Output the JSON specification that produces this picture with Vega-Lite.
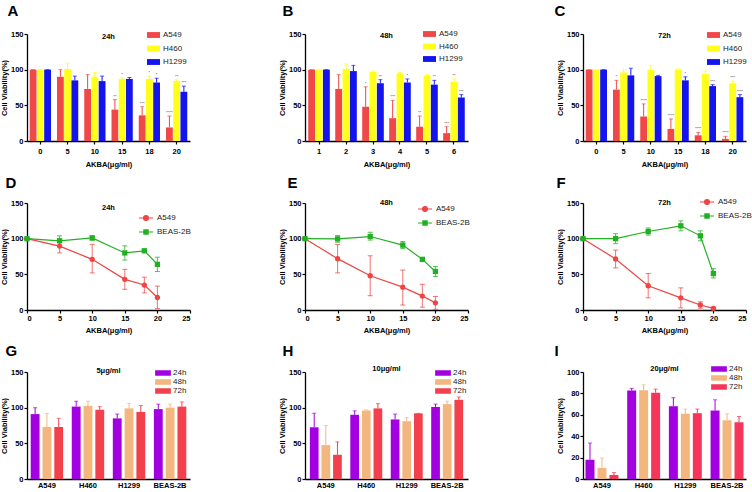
{
  "$schema": "https://vega.github.io/schema/vega-lite/v6.json",
  "padding": {"left": 0, "top": 3, "right": 0, "bottom": 0},
  "background": "white",
  "datasets": {
    "A": [
      {"conc":"0","cell":"A549","v":100,"up":100,"sig":""},
      {"conc":"0","cell":"H460","v":100,"up":100,"sig":""},
      {"conc":"0","cell":"H1299","v":100,"up":100,"sig":""},
      {"conc":"5","cell":"A549","v":90,"up":100,"sig":""},
      {"conc":"5","cell":"H460","v":101,"up":109,"sig":""},
      {"conc":"5","cell":"H1299","v":85,"up":91,"sig":""},
      {"conc":"10","cell":"A549","v":73,"up":93,"sig":""},
      {"conc":"10","cell":"H460","v":90,"up":96,"sig":""},
      {"conc":"10","cell":"H1299","v":84,"up":91,"sig":""},
      {"conc":"15","cell":"A549","v":44,"up":58,"sig":"**"},
      {"conc":"15","cell":"H460","v":87,"up":89,"sig":"*"},
      {"conc":"15","cell":"H1299","v":87,"up":89,"sig":""},
      {"conc":"18","cell":"A549","v":36,"up":48,"sig":"***"},
      {"conc":"18","cell":"H460","v":87,"up":91,"sig":"*"},
      {"conc":"18","cell":"H1299","v":82,"up":88,"sig":"*"},
      {"conc":"20","cell":"A549","v":19,"up":35,"sig":"****"},
      {"conc":"20","cell":"H460","v":84,"up":86,"sig":"**"},
      {"conc":"20","cell":"H1299","v":69,"up":77,"sig":"***"}
    ],
    "B": [
      {"conc":"1","cell":"A549","v":100,"up":100,"sig":""},
      {"conc":"1","cell":"H460","v":100,"up":100,"sig":""},
      {"conc":"1","cell":"H1299","v":100,"up":100,"sig":""},
      {"conc":"2","cell":"A549","v":73,"up":93,"sig":""},
      {"conc":"2","cell":"H460","v":101,"up":108,"sig":""},
      {"conc":"2","cell":"H1299","v":98,"up":106,"sig":""},
      {"conc":"3","cell":"A549","v":48,"up":76,"sig":"*"},
      {"conc":"3","cell":"H460","v":97,"up":98,"sig":""},
      {"conc":"3","cell":"H1299","v":81,"up":86,"sig":"**"},
      {"conc":"4","cell":"A549","v":32,"up":57,"sig":"***"},
      {"conc":"4","cell":"H460","v":95,"up":96,"sig":""},
      {"conc":"4","cell":"H1299","v":82,"up":87,"sig":"*"},
      {"conc":"5","cell":"A549","v":20,"up":35,"sig":"**"},
      {"conc":"5","cell":"H460","v":91.5,"up":93,"sig":""},
      {"conc":"5","cell":"H1299","v":79,"up":85,"sig":"**"},
      {"conc":"6","cell":"A549","v":11,"up":20,"sig":"***"},
      {"conc":"6","cell":"H460","v":83,"up":87,"sig":"**"},
      {"conc":"6","cell":"H1299","v":61,"up":65,"sig":"***"}
    ],
    "C": [
      {"conc":"0","cell":"A549","v":100,"up":100,"sig":""},
      {"conc":"0","cell":"H460","v":100,"up":100,"sig":""},
      {"conc":"0","cell":"H1299","v":100,"up":100,"sig":""},
      {"conc":"5","cell":"A549","v":72,"up":85,"sig":"*"},
      {"conc":"5","cell":"H460","v":96,"up":100,"sig":""},
      {"conc":"5","cell":"H1299","v":92,"up":102,"sig":""},
      {"conc":"10","cell":"A549","v":34.5,"up":52,"sig":"****"},
      {"conc":"10","cell":"H460","v":99.7,"up":106,"sig":""},
      {"conc":"10","cell":"H1299","v":91,"up":92,"sig":""},
      {"conc":"15","cell":"A549","v":17,"up":31,"sig":"****"},
      {"conc":"15","cell":"H460","v":100,"up":101,"sig":""},
      {"conc":"15","cell":"H1299","v":85,"up":90,"sig":"*"},
      {"conc":"18","cell":"A549","v":8,"up":12,"sig":"****"},
      {"conc":"18","cell":"H460","v":94,"up":98,"sig":""},
      {"conc":"18","cell":"H1299","v":77,"up":79,"sig":"***"},
      {"conc":"20","cell":"A549","v":3,"up":6.5,"sig":"****"},
      {"conc":"20","cell":"H460","v":81,"up":84,"sig":"***"},
      {"conc":"20","cell":"H1299","v":61.5,"up":65,"sig":"****"}
    ],
    "D": [
      {"x":0,"cell":"A549","v":100,"lo":100,"hi":100},
      {"x":5,"cell":"A549","v":89.6,"lo":80,"hi":99},
      {"x":10,"cell":"A549","v":71,"lo":52,"hi":92},
      {"x":15,"cell":"A549","v":43,"lo":29,"hi":57},
      {"x":18,"cell":"A549","v":35,"lo":24,"hi":46},
      {"x":20,"cell":"A549","v":17.5,"lo":2,"hi":33.5},
      {"x":0,"cell":"BEAS-2B","v":100,"lo":100,"hi":100},
      {"x":5,"cell":"BEAS-2B","v":97,"lo":90,"hi":104},
      {"x":10,"cell":"BEAS-2B","v":101,"lo":98,"hi":104},
      {"x":15,"cell":"BEAS-2B","v":80,"lo":70,"hi":90},
      {"x":18,"cell":"BEAS-2B","v":83,"lo":81,"hi":85},
      {"x":20,"cell":"BEAS-2B","v":64,"lo":54,"hi":74}
    ],
    "E": [
      {"x":0,"cell":"A549","v":100,"lo":100,"hi":100},
      {"x":5,"cell":"A549","v":72,"lo":52,"hi":92},
      {"x":10,"cell":"A549","v":48,"lo":20,"hi":76},
      {"x":15,"cell":"A549","v":32,"lo":7,"hi":56},
      {"x":18,"cell":"A549","v":19.5,"lo":4,"hi":36},
      {"x":20,"cell":"A549","v":10,"lo":1,"hi":19},
      {"x":0,"cell":"BEAS-2B","v":100,"lo":100,"hi":100},
      {"x":5,"cell":"BEAS-2B","v":99.7,"lo":95,"hi":104.5},
      {"x":10,"cell":"BEAS-2B","v":103,"lo":98,"hi":109},
      {"x":15,"cell":"BEAS-2B","v":91,"lo":86,"hi":96},
      {"x":18,"cell":"BEAS-2B","v":71,"lo":69,"hi":73},
      {"x":20,"cell":"BEAS-2B","v":54,"lo":47,"hi":61}
    ],
    "F": [
      {"x":0,"cell":"A549","v":100,"lo":100,"hi":100},
      {"x":5,"cell":"A549","v":71.6,"lo":59,"hi":84},
      {"x":10,"cell":"A549","v":34,"lo":17,"hi":51},
      {"x":15,"cell":"A549","v":17,"lo":3,"hi":31},
      {"x":18,"cell":"A549","v":7,"lo":2.5,"hi":11.5},
      {"x":20,"cell":"A549","v":2.3,"lo":0.5,"hi":4},
      {"x":0,"cell":"BEAS-2B","v":100,"lo":100,"hi":100},
      {"x":5,"cell":"BEAS-2B","v":100,"lo":93,"hi":107},
      {"x":10,"cell":"BEAS-2B","v":110,"lo":105,"hi":115},
      {"x":15,"cell":"BEAS-2B","v":118,"lo":111,"hi":125},
      {"x":18,"cell":"BEAS-2B","v":104,"lo":97,"hi":111},
      {"x":20,"cell":"BEAS-2B","v":51,"lo":45,"hi":58}
    ],
    "G": [
      {"cell":"A549","time":"24h","v":91,"up":100},
      {"cell":"A549","time":"48h","v":73,"up":92},
      {"cell":"A549","time":"72h","v":73,"up":85},
      {"cell":"H460","time":"24h","v":101.5,"up":109},
      {"cell":"H460","time":"48h","v":102.5,"up":109},
      {"cell":"H460","time":"72h","v":97,"up":101.5},
      {"cell":"H1299","time":"24h","v":85,"up":91},
      {"cell":"H1299","time":"48h","v":99,"up":106},
      {"cell":"H1299","time":"72h","v":94,"up":103},
      {"cell":"BEAS-2B","time":"24h","v":98,"up":105},
      {"cell":"BEAS-2B","time":"48h","v":100,"up":105},
      {"cell":"BEAS-2B","time":"72h","v":101.5,"up":108}
    ],
    "H": [
      {"cell":"A549","time":"24h","v":72.5,"up":92},
      {"cell":"A549","time":"48h","v":47.5,"up":75},
      {"cell":"A549","time":"72h","v":34,"up":52},
      {"cell":"H460","time":"24h","v":90,"up":95.5},
      {"cell":"H460","time":"48h","v":96,"up":97},
      {"cell":"H460","time":"72h","v":99,"up":105.7},
      {"cell":"H1299","time":"24h","v":83.5,"up":91},
      {"cell":"H1299","time":"48h","v":81,"up":86},
      {"cell":"H1299","time":"72h","v":92,"up":92},
      {"cell":"BEAS-2B","time":"24h","v":101,"up":105},
      {"cell":"BEAS-2B","time":"48h","v":105,"up":109},
      {"cell":"BEAS-2B","time":"72h","v":111,"up":115}
    ],
    "I": [
      {"cell":"A549","time":"24h","v":18,"up":33.6},
      {"cell":"A549","time":"48h","v":10.4,"up":19.6},
      {"cell":"A549","time":"72h","v":3.7,"up":6},
      {"cell":"H460","time":"24h","v":82.6,"up":84.7},
      {"cell":"H460","time":"48h","v":83,"up":88},
      {"cell":"H460","time":"72h","v":80.7,"up":84},
      {"cell":"H1299","time":"24h","v":68,"up":76},
      {"cell":"H1299","time":"48h","v":61,"up":65.4},
      {"cell":"H1299","time":"72h","v":61.5,"up":65.4},
      {"cell":"BEAS-2B","time":"24h","v":64,"up":74},
      {"cell":"BEAS-2B","time":"48h","v":55,"up":61},
      {"cell":"BEAS-2B","time":"72h","v":53,"up":58.4}
    ]
  },
  "columns": 3,
  "spacing": {"row": 62, "column": 115},
  "bounds": "flush",
  "resolve": {"scale": {"color": "independent", "x": "independent", "y": "independent", "xOffset": "independent"}, "legend": {"color": "independent"}, "axis": {"x": "independent", "y": "independent"}},
  "concat": [
    {
      "title": {"text": "24h", "offset": -37},
      "width": 163, "height": 107,
      "data": {"name": "A"},
      "resolve": {"axis": {"x": "independent"}},
      "encoding": {
        "xOffset": {"field": "cell", "type": "nominal", "sort": ["A549","H460","H1299"], "scale": {"paddingInner": 0.06}},
        "color": {"field": "cell", "type": "nominal", "scale": {"domain": ["A549","H460","H1299"], "range": ["#F04848","#FFFF1A","#1414EE"]}, "legend": {"orient": "none", "legendX": 120, "legendY": -5.5, "title": null, "symbolType": "M-1,-0.45H1V0.45H-1Z", "symbolSize": 169, "symbolStrokeWidth": 0, "symbolOpacity": 1, "rowPadding": 2.5, "labelOffset": 3}}
      },
      "layer": [
        {"mark": {"type": "rule", "strokeWidth": 1}, "encoding": {"x": {"field": "conc", "type": "nominal", "sort": ["0","5","10","15","18","20"], "scale": {"paddingInner": 0.22, "paddingOuter": 0.1}, "axis": {"title": "AKBA(μg/ml)", "labelAngle": 0, "labelPadding": 3, "titlePadding": 6, "bandPosition": 0.5}}, "y": {"field": "v", "type": "quantitative", "title": "Cell Viability(%)", "scale": {"domain": [0,150], "nice": false}, "axis": {"values": [0,50,100,150]}}, "y2": {"field": "up"}}},
        {"mark": {"type": "tick", "size": 4, "thickness": 1}, "encoding": {"x": {"field": "conc", "type": "nominal", "sort": ["0","5","10","15","18","20"], "axis": null}, "y": {"field": "up", "type": "quantitative", "title": "Cell Viability(%)", "axis": {"values": [0,50,100,150]}}}},
        {"mark": {"type": "bar"}, "encoding": {"x": {"field": "conc", "type": "nominal", "sort": ["0","5","10","15","18","20"], "axis": null}, "y": {"field": "v", "type": "quantitative", "title": "Cell Viability(%)", "axis": {"values": [0,50,100,150]}}}},
        {"mark": {"type": "text", "fontSize": 4, "dy": -3}, "encoding": {"x": {"field": "conc", "type": "nominal", "sort": ["0","5","10","15","18","20"], "axis": {"orient": "top", "title": "A", "domain": false, "ticks": false, "labels": false, "titleX": -20, "titleY": -18.5, "titleAngle": 0, "titleAlign": "left", "titleBaseline": "alphabetic", "titleFontSize": 15}}, "y": {"field": "up", "type": "quantitative", "title": "Cell Viability(%)", "axis": {"values": [0,50,100,150]}}, "text": {"field": "sig"}, "color": {"value": "#333"}}}
      ]
    },
    {
      "title": {"text": "48h", "offset": -36},
      "width": 163, "height": 107,
      "data": {"name": "B"},
      "resolve": {"axis": {"x": "independent"}},
      "encoding": {
        "xOffset": {"field": "cell", "type": "nominal", "sort": ["A549","H460","H1299"], "scale": {"paddingInner": 0.06}},
        "color": {"field": "cell", "type": "nominal", "scale": {"domain": ["A549","H460","H1299"], "range": ["#F04848","#FFFF1A","#1414EE"]}, "legend": {"orient": "none", "legendX": 118, "legendY": -6.5, "title": null, "symbolType": "M-1,-0.45H1V0.45H-1Z", "symbolSize": 169, "symbolStrokeWidth": 0, "symbolOpacity": 1, "rowPadding": 1.5, "labelOffset": 3}}
      },
      "layer": [
        {"mark": {"type": "rule", "strokeWidth": 1}, "encoding": {"x": {"field": "conc", "type": "nominal", "sort": ["1","2","3","4","5","6"], "scale": {"paddingInner": 0.2, "paddingOuter": 0.12}, "axis": {"title": "AKBA(μg/ml)", "labelAngle": 0, "labelPadding": 3, "titlePadding": 6, "bandPosition": 0.5}}, "y": {"field": "v", "type": "quantitative", "title": "Cell Viability(%)", "scale": {"domain": [0,150], "nice": false}, "axis": {"values": [0,50,100,150]}}, "y2": {"field": "up"}}},
        {"mark": {"type": "tick", "size": 4, "thickness": 1}, "encoding": {"x": {"field": "conc", "type": "nominal", "sort": ["1","2","3","4","5","6"], "axis": null}, "y": {"field": "up", "type": "quantitative", "title": "Cell Viability(%)", "axis": {"values": [0,50,100,150]}}}},
        {"mark": {"type": "bar"}, "encoding": {"x": {"field": "conc", "type": "nominal", "sort": ["1","2","3","4","5","6"], "axis": null}, "y": {"field": "v", "type": "quantitative", "title": "Cell Viability(%)", "axis": {"values": [0,50,100,150]}}}},
        {"mark": {"type": "text", "fontSize": 4, "dy": -3}, "encoding": {"x": {"field": "conc", "type": "nominal", "sort": ["1","2","3","4","5","6"], "axis": {"orient": "top", "title": "B", "domain": false, "ticks": false, "labels": false, "titleX": -23, "titleY": -18.5, "titleAngle": 0, "titleAlign": "left", "titleBaseline": "alphabetic", "titleFontSize": 15}}, "y": {"field": "up", "type": "quantitative", "title": "Cell Viability(%)", "axis": {"values": [0,50,100,150]}}, "text": {"field": "sig"}, "color": {"value": "#333"}}}
      ]
    },
    {
      "title": {"text": "72h", "offset": -36},
      "width": 163, "height": 107,
      "data": {"name": "C"},
      "resolve": {"axis": {"x": "independent"}},
      "encoding": {
        "xOffset": {"field": "cell", "type": "nominal", "sort": ["A549","H460","H1299"], "scale": {"paddingInner": 0.06}},
        "color": {"field": "cell", "type": "nominal", "scale": {"domain": ["A549","H460","H1299"], "range": ["#F04848","#FFFF1A","#1414EE"]}, "legend": {"orient": "none", "legendX": 124, "legendY": -5.5, "title": null, "symbolType": "M-1,-0.45H1V0.45H-1Z", "symbolSize": 169, "symbolStrokeWidth": 0, "symbolOpacity": 1, "rowPadding": 2.5, "labelOffset": 3}}
      },
      "layer": [
        {"mark": {"type": "rule", "strokeWidth": 1}, "encoding": {"x": {"field": "conc", "type": "nominal", "sort": ["0","5","10","15","18","20"], "scale": {"paddingInner": 0.22, "paddingOuter": 0.1}, "axis": {"title": "AKBA(μg/ml)", "labelAngle": 0, "labelPadding": 3, "titlePadding": 6, "bandPosition": 0.5}}, "y": {"field": "v", "type": "quantitative", "title": "Cell Viability(%)", "scale": {"domain": [0,150], "nice": false}, "axis": {"values": [0,50,100,150]}}, "y2": {"field": "up"}}},
        {"mark": {"type": "tick", "size": 4, "thickness": 1}, "encoding": {"x": {"field": "conc", "type": "nominal", "sort": ["0","5","10","15","18","20"], "axis": null}, "y": {"field": "up", "type": "quantitative", "title": "Cell Viability(%)", "axis": {"values": [0,50,100,150]}}}},
        {"mark": {"type": "bar"}, "encoding": {"x": {"field": "conc", "type": "nominal", "sort": ["0","5","10","15","18","20"], "axis": null}, "y": {"field": "v", "type": "quantitative", "title": "Cell Viability(%)", "axis": {"values": [0,50,100,150]}}}},
        {"mark": {"type": "text", "fontSize": 4, "dy": -3}, "encoding": {"x": {"field": "conc", "type": "nominal", "sort": ["0","5","10","15","18","20"], "axis": {"orient": "top", "title": "C", "domain": false, "ticks": false, "labels": false, "titleX": -29, "titleY": -18.5, "titleAngle": 0, "titleAlign": "left", "titleBaseline": "alphabetic", "titleFontSize": 15}}, "y": {"field": "up", "type": "quantitative", "title": "Cell Viability(%)", "axis": {"values": [0,50,100,150]}}, "text": {"field": "sig"}, "color": {"value": "#333"}}}
      ]
    },
    {
      "title": {"text": "24h", "offset": -36.5},
      "width": 163, "height": 107,
      "data": {"name": "D"},
      "resolve": {"axis": {"x": "independent"}},
      "encoding": {
        "color": {"field": "cell", "type": "nominal", "scale": {"domain": ["A549","BEAS-2B"], "range": ["#EE4444","#22B022"]}, "legend": {"orient": "none", "legendX": 111, "legendY": 7, "title": null, "symbolType": "M-1,0H1", "symbolSize": 196, "symbolStrokeWidth": 1.2, "symbolOpacity": 1, "rowPadding": 1, "labelOffset": 3, "encode": {"symbols": {"update": {"shape": {"signal": "datum.value === 'A549' ? 'M-1,0H1M-0.35,0A0.35,0.35 0 1,1 0.35,0A0.35,0.35 0 1,1 -0.35,0Z' : 'M-1,0H1M-0.3,-0.3H0.3V0.3H-0.3Z'"}, "fill": {"signal": "datum.value === 'A549' ? '#EE4444' : '#22B022'"}, "stroke": {"signal": "datum.value === 'A549' ? '#EE4444' : '#22B022'"}, "opacity": {"value": 1}}}}}}
      },
      "layer": [
        {"mark": {"type": "rule", "strokeWidth": 1, "opacity": 0.75}, "encoding": {"x": {"field": "x", "type": "quantitative", "scale": {"domain": [0,25], "nice": false}, "axis": {"title": "AKBA(μg/ml)", "values": [0,5,10,15,20,25], "labelPadding": 1, "titlePadding": 5}}, "y": {"field": "lo", "type": "quantitative", "title": "Cell Viability(%)", "scale": {"domain": [0,150], "nice": false}, "axis": {"values": [0,50,100,150]}}, "y2": {"field": "hi"}}},
        {"mark": {"type": "tick", "orient": "horizontal", "size": 5, "thickness": 1, "opacity": 0.75}, "encoding": {"x": {"field": "x", "type": "quantitative", "axis": null}, "y": {"field": "lo", "type": "quantitative", "title": "Cell Viability(%)", "axis": {"values": [0,50,100,150]}}}},
        {"mark": {"type": "tick", "orient": "horizontal", "size": 5, "thickness": 1, "opacity": 0.75}, "encoding": {"x": {"field": "x", "type": "quantitative", "axis": null}, "y": {"field": "hi", "type": "quantitative", "title": "Cell Viability(%)", "axis": {"values": [0,50,100,150]}}}},
        {"mark": {"type": "line", "strokeWidth": 1.2}, "encoding": {"x": {"field": "x", "type": "quantitative", "axis": null}, "y": {"field": "v", "type": "quantitative", "title": "Cell Viability(%)", "axis": {"values": [0,50,100,150]}}}},
        {"transform": [{"filter": "datum.cell === 'A549'"}], "mark": {"type": "point", "shape": "circle", "filled": true, "size": 28, "opacity": 1}, "encoding": {"x": {"field": "x", "type": "quantitative", "axis": {"orient": "top", "title": "D", "domain": false, "ticks": false, "labels": false, "titleX": -22, "titleY": -16, "titleAngle": 0, "titleAlign": "left", "titleBaseline": "alphabetic", "titleFontSize": 15}}, "y": {"field": "v", "type": "quantitative", "title": "Cell Viability(%)", "axis": {"values": [0,50,100,150]}}}},
        {"transform": [{"filter": "datum.cell === 'BEAS-2B'"}], "mark": {"type": "point", "shape": "square", "filled": true, "size": 28, "opacity": 1}, "encoding": {"x": {"field": "x", "type": "quantitative", "axis": null}, "y": {"field": "v", "type": "quantitative", "title": "Cell Viability(%)", "axis": {"values": [0,50,100,150]}}}}
      ]
    },
    {
      "title": {"text": "48h", "offset": -31.5},
      "width": 163, "height": 107,
      "data": {"name": "E"},
      "resolve": {"axis": {"x": "independent"}},
      "encoding": {
        "color": {"field": "cell", "type": "nominal", "scale": {"domain": ["A549","BEAS-2B"], "range": ["#EE4444","#22B022"]}, "legend": {"orient": "none", "legendX": 112, "legendY": -2, "title": null, "symbolType": "M-1,0H1", "symbolSize": 196, "symbolStrokeWidth": 1.2, "symbolOpacity": 1, "rowPadding": 1, "labelOffset": 3, "encode": {"symbols": {"update": {"shape": {"signal": "datum.value === 'A549' ? 'M-1,0H1M-0.35,0A0.35,0.35 0 1,1 0.35,0A0.35,0.35 0 1,1 -0.35,0Z' : 'M-1,0H1M-0.3,-0.3H0.3V0.3H-0.3Z'"}, "fill": {"signal": "datum.value === 'A549' ? '#EE4444' : '#22B022'"}, "stroke": {"signal": "datum.value === 'A549' ? '#EE4444' : '#22B022'"}, "opacity": {"value": 1}}}}}}
      },
      "layer": [
        {"mark": {"type": "rule", "strokeWidth": 1, "opacity": 0.75}, "encoding": {"x": {"field": "x", "type": "quantitative", "scale": {"domain": [0,25], "nice": false}, "axis": {"title": "AKBA(μg/ml)", "values": [0,5,10,15,20,25], "labelPadding": 1, "titlePadding": 5}}, "y": {"field": "lo", "type": "quantitative", "title": "Cell Viability(%)", "scale": {"domain": [0,150], "nice": false}, "axis": {"values": [0,50,100,150]}}, "y2": {"field": "hi"}}},
        {"mark": {"type": "tick", "orient": "horizontal", "size": 5, "thickness": 1, "opacity": 0.75}, "encoding": {"x": {"field": "x", "type": "quantitative", "axis": null}, "y": {"field": "lo", "type": "quantitative", "title": "Cell Viability(%)", "axis": {"values": [0,50,100,150]}}}},
        {"mark": {"type": "tick", "orient": "horizontal", "size": 5, "thickness": 1, "opacity": 0.75}, "encoding": {"x": {"field": "x", "type": "quantitative", "axis": null}, "y": {"field": "hi", "type": "quantitative", "title": "Cell Viability(%)", "axis": {"values": [0,50,100,150]}}}},
        {"mark": {"type": "line", "strokeWidth": 1.2}, "encoding": {"x": {"field": "x", "type": "quantitative", "axis": null}, "y": {"field": "v", "type": "quantitative", "title": "Cell Viability(%)", "axis": {"values": [0,50,100,150]}}}},
        {"transform": [{"filter": "datum.cell === 'A549'"}], "mark": {"type": "point", "shape": "circle", "filled": true, "size": 28, "opacity": 1}, "encoding": {"x": {"field": "x", "type": "quantitative", "axis": {"orient": "top", "title": "E", "domain": false, "ticks": false, "labels": false, "titleX": -18, "titleY": -16, "titleAngle": 0, "titleAlign": "left", "titleBaseline": "alphabetic", "titleFontSize": 15}}, "y": {"field": "v", "type": "quantitative", "title": "Cell Viability(%)", "axis": {"values": [0,50,100,150]}}}},
        {"transform": [{"filter": "datum.cell === 'BEAS-2B'"}], "mark": {"type": "point", "shape": "square", "filled": true, "size": 28, "opacity": 1}, "encoding": {"x": {"field": "x", "type": "quantitative", "axis": null}, "y": {"field": "v", "type": "quantitative", "title": "Cell Viability(%)", "axis": {"values": [0,50,100,150]}}}}
      ]
    },
    {
      "title": {"text": "72h", "offset": -31.5},
      "width": 163, "height": 107,
      "data": {"name": "F"},
      "resolve": {"axis": {"x": "independent"}},
      "encoding": {
        "color": {"field": "cell", "type": "nominal", "scale": {"domain": ["A549","BEAS-2B"], "range": ["#EE4444","#22B022"]}, "legend": {"orient": "none", "legendX": 116, "legendY": -9, "title": null, "symbolType": "M-1,0H1", "symbolSize": 196, "symbolStrokeWidth": 1.2, "symbolOpacity": 1, "rowPadding": 1, "labelOffset": 3, "encode": {"symbols": {"update": {"shape": {"signal": "datum.value === 'A549' ? 'M-1,0H1M-0.35,0A0.35,0.35 0 1,1 0.35,0A0.35,0.35 0 1,1 -0.35,0Z' : 'M-1,0H1M-0.3,-0.3H0.3V0.3H-0.3Z'"}, "fill": {"signal": "datum.value === 'A549' ? '#EE4444' : '#22B022'"}, "stroke": {"signal": "datum.value === 'A549' ? '#EE4444' : '#22B022'"}, "opacity": {"value": 1}}}}}}
      },
      "layer": [
        {"mark": {"type": "rule", "strokeWidth": 1, "opacity": 0.75}, "encoding": {"x": {"field": "x", "type": "quantitative", "scale": {"domain": [0,25], "nice": false}, "axis": {"title": "AKBA(μg/ml)", "values": [0,5,10,15,20,25], "labelPadding": 1, "titlePadding": 5}}, "y": {"field": "lo", "type": "quantitative", "title": "Cell Viability(%)", "scale": {"domain": [0,150], "nice": false}, "axis": {"values": [0,50,100,150]}}, "y2": {"field": "hi"}}},
        {"mark": {"type": "tick", "orient": "horizontal", "size": 5, "thickness": 1, "opacity": 0.75}, "encoding": {"x": {"field": "x", "type": "quantitative", "axis": null}, "y": {"field": "lo", "type": "quantitative", "title": "Cell Viability(%)", "axis": {"values": [0,50,100,150]}}}},
        {"mark": {"type": "tick", "orient": "horizontal", "size": 5, "thickness": 1, "opacity": 0.75}, "encoding": {"x": {"field": "x", "type": "quantitative", "axis": null}, "y": {"field": "hi", "type": "quantitative", "title": "Cell Viability(%)", "axis": {"values": [0,50,100,150]}}}},
        {"mark": {"type": "line", "strokeWidth": 1.2}, "encoding": {"x": {"field": "x", "type": "quantitative", "axis": null}, "y": {"field": "v", "type": "quantitative", "title": "Cell Viability(%)", "axis": {"values": [0,50,100,150]}}}},
        {"transform": [{"filter": "datum.cell === 'A549'"}], "mark": {"type": "point", "shape": "circle", "filled": true, "size": 28, "opacity": 1}, "encoding": {"x": {"field": "x", "type": "quantitative", "axis": {"orient": "top", "title": "F", "domain": false, "ticks": false, "labels": false, "titleX": -27, "titleY": -16, "titleAngle": 0, "titleAlign": "left", "titleBaseline": "alphabetic", "titleFontSize": 15}}, "y": {"field": "v", "type": "quantitative", "title": "Cell Viability(%)", "axis": {"values": [0,50,100,150]}}}},
        {"transform": [{"filter": "datum.cell === 'BEAS-2B'"}], "mark": {"type": "point", "shape": "square", "filled": true, "size": 28, "opacity": 1}, "encoding": {"x": {"field": "x", "type": "quantitative", "axis": null}, "y": {"field": "v", "type": "quantitative", "title": "Cell Viability(%)", "axis": {"values": [0,50,100,150]}}}}
      ]
    },
    {
      "title": {"text": "5μg/ml", "offset": -31.5},
      "width": 163, "height": 107,
      "data": {"name": "G"},
      "resolve": {"axis": {"x": "independent"}},
      "encoding": {
        "xOffset": {"field": "time", "type": "nominal", "sort": ["24h","48h","72h"], "scale": {"paddingInner": 0.25}},
        "color": {"field": "time", "type": "nominal", "scale": {"domain": ["24h","48h","72h"], "range": ["#A200E0","#F2B67E","#F2404C"]}, "legend": {"orient": "none", "legendX": 132, "legendY": -3, "title": null, "symbolType": "M-2,-0.7H2V0.7H-2Z", "symbolSize": 62, "symbolStrokeWidth": 0, "symbolOpacity": 1, "rowPadding": 1, "labelOffset": 6}}
      },
      "layer": [
        {"mark": {"type": "rule", "strokeWidth": 1}, "encoding": {"x": {"field": "cell", "type": "nominal", "sort": ["A549","H460","H1299","BEAS-2B"], "scale": {"paddingInner": 0.21, "paddingOuter": 0.09}, "axis": {"title": null, "labelAngle": 0, "labelPadding": 2, "ticks": false}}, "y": {"field": "v", "type": "quantitative", "title": "Cell Viability(%)", "scale": {"domain": [0,150], "nice": false}, "axis": {"values": [0,50,100,150]}}, "y2": {"field": "up"}}},
        {"mark": {"type": "tick", "size": 4, "thickness": 1}, "encoding": {"x": {"field": "cell", "type": "nominal", "sort": ["A549","H460","H1299","BEAS-2B"], "axis": {"orient": "top", "title": "G", "domain": false, "ticks": false, "labels": false, "titleX": -22, "titleY": -17, "titleAngle": 0, "titleAlign": "left", "titleBaseline": "alphabetic", "titleFontSize": 15}}, "y": {"field": "up", "type": "quantitative", "title": "Cell Viability(%)", "axis": {"values": [0,50,100,150]}}}},
        {"mark": {"type": "bar"}, "encoding": {"x": {"field": "cell", "type": "nominal", "sort": ["A549","H460","H1299","BEAS-2B"], "axis": null}, "y": {"field": "v", "type": "quantitative", "title": "Cell Viability(%)", "axis": {"values": [0,50,100,150]}}}}
      ]
    },
    {
      "title": {"text": "10μg/ml", "offset": -29.5},
      "width": 163, "height": 107,
      "data": {"name": "H"},
      "resolve": {"axis": {"x": "independent"}},
      "encoding": {
        "xOffset": {"field": "time", "type": "nominal", "sort": ["24h","48h","72h"], "scale": {"paddingInner": 0.25}},
        "color": {"field": "time", "type": "nominal", "scale": {"domain": ["24h","48h","72h"], "range": ["#A200E0","#F2B67E","#F2404C"]}, "legend": {"orient": "none", "legendX": 134, "legendY": -3, "title": null, "symbolType": "M-2,-0.7H2V0.7H-2Z", "symbolSize": 62, "symbolStrokeWidth": 0, "symbolOpacity": 1, "rowPadding": 1, "labelOffset": 6}}
      },
      "layer": [
        {"mark": {"type": "rule", "strokeWidth": 1}, "encoding": {"x": {"field": "cell", "type": "nominal", "sort": ["A549","H460","H1299","BEAS-2B"], "scale": {"paddingInner": 0.21, "paddingOuter": 0.12}, "axis": {"title": null, "labelAngle": 0, "labelPadding": 2, "ticks": false}}, "y": {"field": "v", "type": "quantitative", "title": "Cell Viability(%)", "scale": {"domain": [0,150], "nice": false}, "axis": {"values": [0,50,100,150]}}, "y2": {"field": "up"}}},
        {"mark": {"type": "tick", "size": 4, "thickness": 1}, "encoding": {"x": {"field": "cell", "type": "nominal", "sort": ["A549","H460","H1299","BEAS-2B"], "axis": {"orient": "top", "title": "H", "domain": false, "ticks": false, "labels": false, "titleX": -23, "titleY": -17, "titleAngle": 0, "titleAlign": "left", "titleBaseline": "alphabetic", "titleFontSize": 15}}, "y": {"field": "up", "type": "quantitative", "title": "Cell Viability(%)", "axis": {"values": [0,50,100,150]}}}},
        {"mark": {"type": "bar"}, "encoding": {"x": {"field": "cell", "type": "nominal", "sort": ["A549","H460","H1299","BEAS-2B"], "axis": null}, "y": {"field": "v", "type": "quantitative", "title": "Cell Viability(%)", "axis": {"values": [0,50,100,150]}}}}
      ]
    },
    {
      "title": {"text": "20μg/ml", "offset": -29.5},
      "width": 163, "height": 107,
      "data": {"name": "I"},
      "resolve": {"axis": {"x": "independent"}},
      "encoding": {
        "xOffset": {"field": "time", "type": "nominal", "sort": ["24h","48h","72h"], "scale": {"paddingInner": 0.25}},
        "color": {"field": "time", "type": "nominal", "scale": {"domain": ["24h","48h","72h"], "range": ["#A200E0","#F2B67E","#F5365A"]}, "legend": {"orient": "none", "legendX": 132, "legendY": -7, "title": null, "symbolType": "M-2,-0.7H2V0.7H-2Z", "symbolSize": 62, "symbolStrokeWidth": 0, "symbolOpacity": 1, "rowPadding": 1, "labelOffset": 6}}
      },
      "layer": [
        {"mark": {"type": "rule", "strokeWidth": 1}, "encoding": {"x": {"field": "cell", "type": "nominal", "sort": ["A549","H460","H1299","BEAS-2B"], "scale": {"paddingInner": 0.21, "paddingOuter": 0.06}, "axis": {"title": null, "labelAngle": 0, "labelPadding": 2, "ticks": false}}, "y": {"field": "v", "type": "quantitative", "title": "Cell Viability(%)", "scale": {"domain": [0,100], "nice": false}, "axis": {"values": [0,20,40,60,80,100]}}, "y2": {"field": "up"}}},
        {"mark": {"type": "tick", "size": 4, "thickness": 1}, "encoding": {"x": {"field": "cell", "type": "nominal", "sort": ["A549","H460","H1299","BEAS-2B"], "axis": {"orient": "top", "title": "I", "domain": false, "ticks": false, "labels": false, "titleX": -29, "titleY": -17, "titleAngle": 0, "titleAlign": "left", "titleBaseline": "alphabetic", "titleFontSize": 15}}, "y": {"field": "up", "type": "quantitative", "title": "Cell Viability(%)", "axis": {"values": [0,20,40,60,80,100]}}}},
        {"mark": {"type": "bar"}, "encoding": {"x": {"field": "cell", "type": "nominal", "sort": ["A549","H460","H1299","BEAS-2B"], "axis": null}, "y": {"field": "v", "type": "quantitative", "title": "Cell Viability(%)", "axis": {"values": [0,20,40,60,80,100]}}}}
      ]
    }
  ],
  "config": {
    "font": "Liberation Sans",
    "view": {"stroke": null},
    "axis": {"domainColor": "#000", "domainWidth": 1.3, "tickColor": "#000", "tickWidth": 1.2, "tickSize": 3, "labelFont": "Liberation Sans", "labelFontSize": 7.5, "labelFontWeight": "bold", "labelColor": "#000", "titleFont": "Liberation Sans", "titleFontSize": 7.5, "titleFontWeight": "bold", "titleColor": "#000", "grid": false, "labelPadding": 1, "labelOverlap": false},
    "axisY": {"titlePadding": 2},
    "legend": {"labelFont": "Liberation Sans", "labelFontSize": 8, "labelColor": "#222", "padding": 0},
    "title": {"font": "Liberation Sans", "fontWeight": "bold", "color": "#000", "fontSize": 7.5, "anchor": "middle", "frame": "group"}
  }
}
